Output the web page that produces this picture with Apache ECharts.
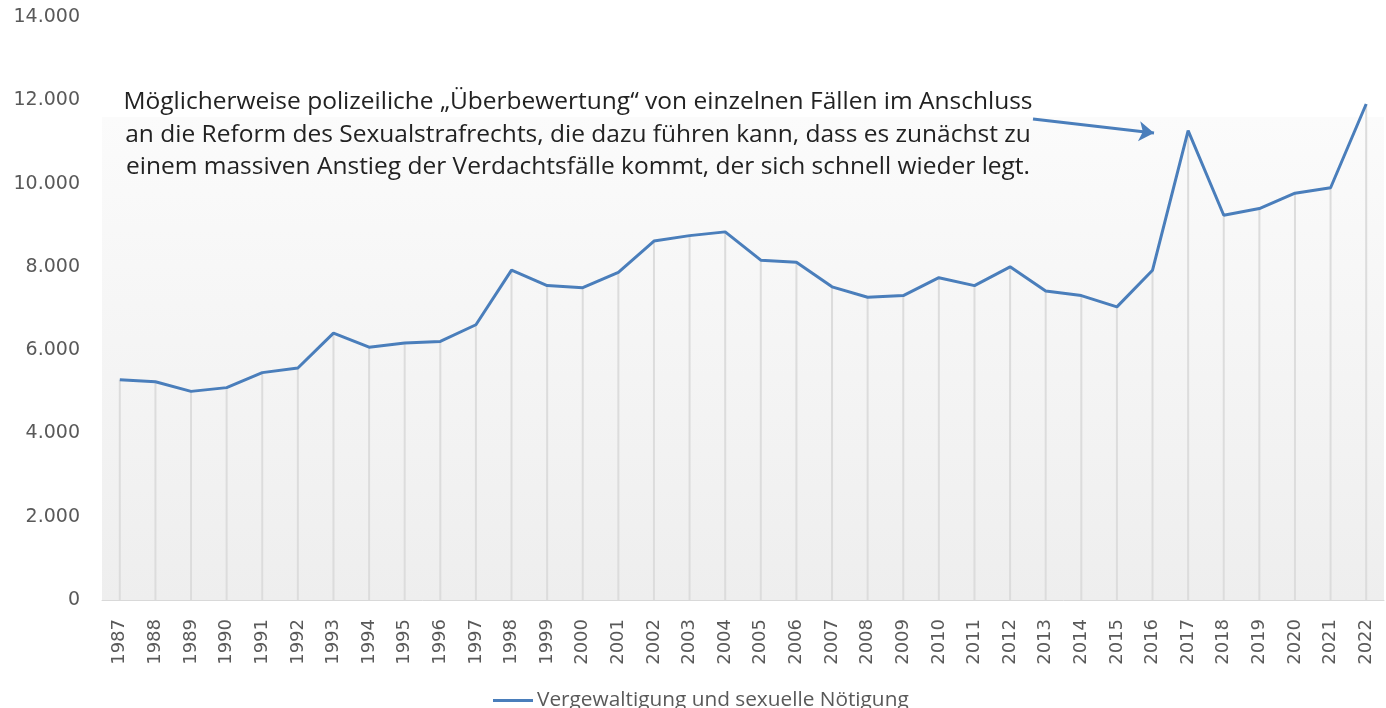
<!DOCTYPE html>
<html>
<head>
<meta charset="utf-8">
<script src="https://cdn.jsdelivr.net/npm/echarts@6/dist/echarts.min.js"></script>
<style>
  html, body { margin: 0; padding: 0; background: #fff; }
  #main { width: 1386px; height: 708px; }
</style>
</head>
<body>
<div id="main"></div>
<script>
  // Jahre und Fallzahlen
  var years = ['1987','1988','1989','1990','1991','1992','1993','1994','1995','1996',
               '1997','1998','1999','2000','2001','2002','2003','2004','2005','2006',
               '2007','2008','2009','2010','2011','2012','2013','2014','2015','2016',
               '2017','2018','2019','2020','2021','2022'];
  var cases = [5290, 5240, 5010, 5100, 5460, 5570, 6410, 6070, 6170, 6210,
               6610, 7920, 7550, 7500, 7870, 8620, 8750, 8840, 8160, 8110,
               7520, 7270, 7310, 7740, 7550, 8000, 7420, 7310, 7040, 7920,
               11270, 9240, 9400, 9770, 9900, 11910];
  var yTicks = [0, 2000, 4000, 6000, 8000, 10000, 12000, 14000];
  var seriesName = 'Vergewaltigung und sexuelle Nötigung';
  var noteLines = [
    'Möglicherweise polizeiliche „Überbewertung“ von einzelnen Fällen im Anschluss',
    'an die Reform des Sexualstrafrechts, die dazu führen kann, dass es zunächst zu',
    'einem massiven Anstieg der Verdachtsfälle kommt, der sich schnell wieder legt.'
  ];

  var blue = '#4A7EBB';
  var gray = '#595959';

  var chart = echarts.init(document.getElementById('main'));

  var option = {
    animation: false,
    grid: {
      left: 102, right: 2, top: 17, bottom: 108,
      show: true,
      borderWidth: 0,
      backgroundColor: {
        type: 'linear', x: 0, y: 0, x2: 0, y2: 1,
        colorStops: [
          { offset: 0, color: '#ffffff' },
          { offset: 0.171, color: '#ffffff' },
          { offset: 0.172, color: '#fbfbfb' },
          { offset: 1, color: '#eeeeee' }
        ]
      }
    },
    legend: {
      data: [seriesName],
      left: 488,
      top: 685,
      icon: 'rect',
      itemWidth: 40,
      itemHeight: 3,
      itemGap: 4,
      textStyle: { color: gray, fontSize: 20.8, fontFamily: 'Open Sans', padding: [0, 0, 0, -1] }
    },
    xAxis: {
      type: 'category',
      data: years,
      boundaryGap: true,
      axisLine: { lineStyle: { color: '#d9d9d9', width: 1 } },
      axisTick: { show: false },
      axisLabel: {
        rotate: 90,
        margin: 19,
        interval: 0,
        color: gray,
        fontSize: 18,
        fontFamily: 'DejaVu Sans'
      }
    },
    yAxis: {
      type: 'value',
      min: yTicks[0],
      max: yTicks[yTicks.length - 1],
      interval: yTicks[1] - yTicks[0],
      splitLine: { show: false },
      axisLine: { show: false },
      axisTick: { show: false },
      axisLabel: {
        margin: 22,
        color: gray,
        fontSize: 19,
        fontFamily: 'DejaVu Sans',
        formatter: function (v) {
          return v.toString().replace(/\B(?=(\d{3})+(?!\d))/g, '.');
        }
      }
    },
    graphic: [
      {
        type: 'text',
        x: 578,
        y: 86,
        style: {
          text: noteLines.join('\n'),
          fill: '#222222',
          fontSize: 24.5,
          fontFamily: 'Open Sans',
          lineHeight: 32.5,
          align: 'center'
        }
      }
    ],
    series: [
      {
        // senkrechte Lotlinien zu jedem Punkt
        name: 'drop',
        type: 'bar',
        data: cases,
        barWidth: 2,
        silent: true,
        itemStyle: { color: '#dcdcdc' },
        z: 1
      },
      {
        name: seriesName,
        type: 'line',
        data: cases,
        showSymbol: false,
        symbol: 'none',
        lineStyle: { color: blue, width: 3 },
        itemStyle: { color: blue },
        z: 3,
        markLine: {
          silent: true,
          symbol: ['none', 'arrow'],
          symbolSize: 15,
          label: { show: false },
          lineStyle: { color: blue, width: 3, type: 'solid' },
          data: [[{ x: 1033, y: 119 }, { x: 1154, y: 133 }]]
        }
      }
    ]
  };

  chart.setOption(option);
</script>
</body>
</html>
